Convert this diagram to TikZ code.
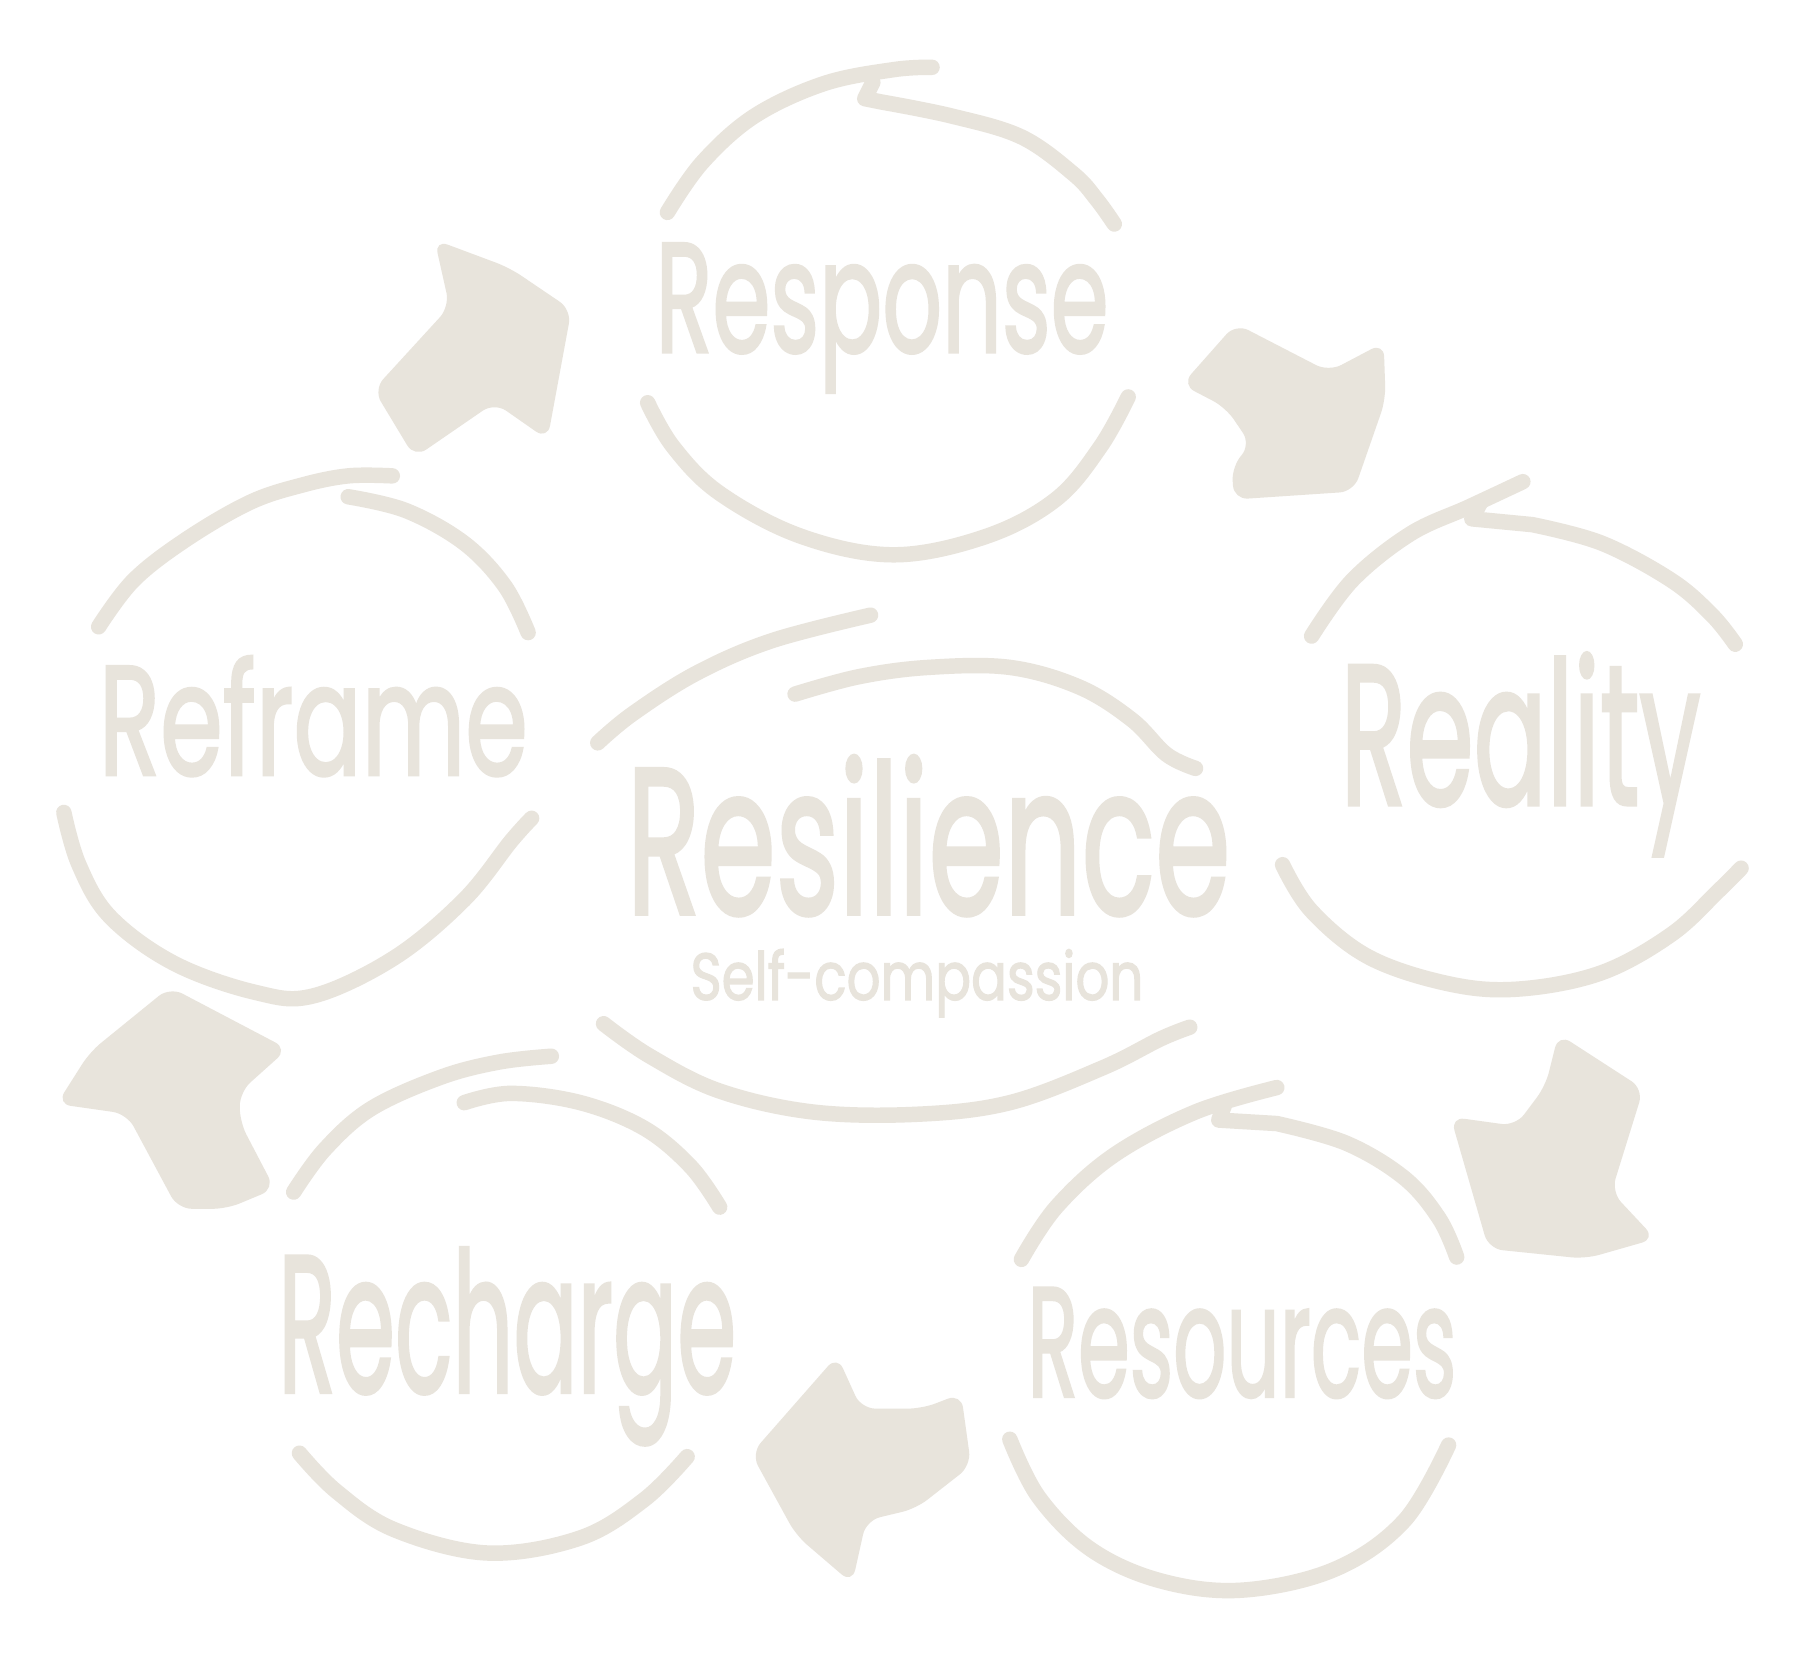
\documentclass[tikz,border=0pt]{standalone}
\usepackage{fontspec}
\setmainfont{Poppins}[FakeBold=2]
\usepackage{graphicx}
\definecolor{beige}{RGB}{232,228,220}
\newcommand{\hwtext}[3]{\resizebox*{#1}{#2}{#3}}
\begin{document}
\begin{tikzpicture}[x=0.011607cm,y=-0.011607cm,
  hand/.style={draw=beige,line width=4.4pt,line cap=round,line join=round},
  blob/.style={fill=beige,rounded corners=4pt},
  word/.style={inner sep=0pt,text=beige}]
\useasboundingbox (0,0) rectangle (1568,1428);
\fill[white] (0,0) rectangle (1568,1428);

% ---------- Response circle ----------
\draw[hand] plot[smooth,tension=0.6] coordinates {(575,183) (605,140) (650,100) (710,72) (770,60) (803,58)};
\draw[hand] (752,71) -- (745,85) -- plot[smooth,tension=0.6] coordinates {(760,88) (820,100) (880,118) (925,150) (945,172) (960,193)};
\draw[hand] plot[smooth,tension=0.6] coordinates {(558,347) (580,385) (620,425) (690,462) (770,478) (850,462) (910,430) (948,385) (972,342)};
\node[word] (tResponse) at (760,274) {\hwtext{4.53cm}{1.49cm}{Response}};

% ---------- Reality circle ----------
\draw[hand] plot[smooth,tension=0.6] coordinates {(1130,548) (1165,500) (1215,460) (1265,437) (1312,415)};
\draw[hand] (1275,434) -- (1268,447) -- plot[smooth,tension=0.6] coordinates {(1320,452) (1380,468) (1440,500) (1475,530) (1495,555)};
\draw[hand] plot[smooth,tension=0.6] coordinates {(1105,745) (1130,785) (1180,825) (1250,848) (1310,852) (1380,838) (1440,805) (1480,768) (1500,748)};
\node[word] (tReality) at (1310,650) {\hwtext{3.60cm}{2.03cm}{Reality}};

% ---------- Resources circle ----------
\draw[hand] plot[smooth,tension=0.6] coordinates {(880,1085) (910,1040) (960,995) (1030,958) (1100,937)};
\draw[hand] (1055,952) -- (1050,965) -- plot[smooth,tension=0.6] coordinates {(1100,968) (1160,985) (1210,1015) (1240,1050) (1255,1083)};
\draw[hand] plot[smooth,tension=0.6] coordinates {(870,1240) (895,1290) (940,1335) (1000,1362) (1070,1370) (1150,1352) (1210,1310) (1248,1245)};
\node[word] (tResources) at (1070,1157) {\hwtext{4.29cm}{1.10cm}{Resources}};

% ---------- Recharge circle ----------
\draw[hand] plot[smooth,tension=0.6] coordinates {(253,1027) (280,990) (320,955) (380,928) (430,915) (475,910)};
\draw[hand] plot[smooth,tension=0.6] coordinates {(400,950) (440,942) (500,950) (555,972) (595,1005) (620,1040)};
\draw[hand] plot[smooth,tension=0.6] coordinates {(258,1252) (290,1285) (340,1318) (420,1338) (500,1325) (555,1292) (592,1255)};
\node[word] (tRecharge) at (437,1160) {\hwtext{4.58cm}{1.97cm}{Recharge}};

% ---------- Reframe circle ----------
\draw[hand] plot[smooth,tension=0.6] coordinates {(85,540) (115,500) (160,465) (215,433) (260,418) (300,410) (338,410)};
\draw[hand] plot[smooth,tension=0.6] coordinates {(300,428) (350,440) (400,468) (435,505) (455,545)};
\draw[hand] plot[smooth,tension=0.6] coordinates {(55,700) (68,745) (95,790) (150,830) (220,855) (270,858) (340,825) (400,775) (440,725) (458,705)};
\node[word] (tReframe) at (270,617) {\hwtext{4.29cm}{1.20cm}{Reframe}};

% ---------- Central circle ----------
\draw[hand] plot[smooth,tension=0.6] coordinates {(515,640) (545,615) (600,580) (665,552) (750,530)};
\draw[hand] plot[smooth,tension=0.6] coordinates {(685,598) (740,583) (800,575) (870,575) (930,592) (975,620) (1005,650) (1030,662)};
\draw[hand] plot[smooth,tension=0.6] coordinates {(520,882) (560,910) (620,940) (700,958) (790,960) (870,950) (950,920) (1000,895) (1025,885)};
\node[word] (tResilience) at (800,720) {\hwtext{6.04cm}{1.60cm}{Resilience}};
\node[word] (tSelf) at (790,847) {\hwtext{4.53cm}{0.68cm}{Self-compassion}};

% ---------- Block arrows (full-size pixel coordinates) ----------
\begin{scope}[x=0.01cm,y=-0.01cm]
\fill[blob] (435,240) -- (510,268) -- (572,310) -- (548,440) -- (495,403) -- (415,458) -- (374,390) -- (450,307) -- cycle;
\fill[blob] (1183,385) -- (1237,324) -- (1330,372) -- (1385,343) -- (1387,400) -- (1355,492) -- (1235,500) -- (1233,467) -- (1252,445) -- (1227,408) -- cycle;
\fill[blob] (1560,1035) -- (1645,1090) -- (1613,1193) -- (1657,1240) -- (1587,1260) -- (1490,1250) -- (1452,1118) -- (1517,1127) -- (1547,1087) -- cycle;
\fill[blob] (838,1357) -- (862,1410) -- (923,1410) -- (962,1395) -- (972,1467) -- (917,1510) -- (867,1522) -- (853,1585) -- (797,1537) -- (752,1455) -- cycle;
\fill[blob] (170,988) -- (288,1050) -- (240,1093) -- (240,1123) -- (275,1190) -- (227,1210) -- (178,1210) -- (127,1115) -- (57,1105) -- (90,1053) -- cycle;
\end{scope}
\end{tikzpicture}
\end{document}
